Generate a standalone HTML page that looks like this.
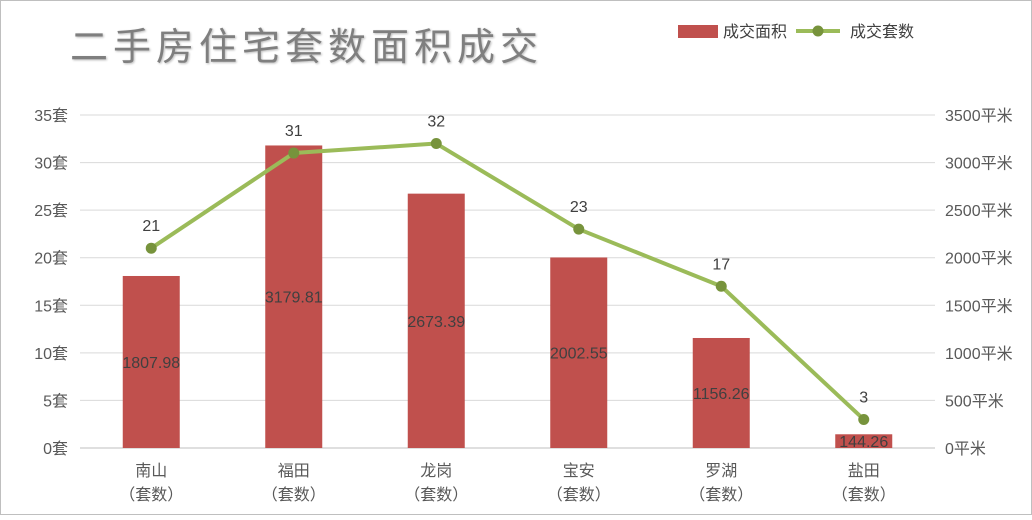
<!DOCTYPE html>
<html><head><meta charset="utf-8">
<style>
html,body{margin:0;padding:0;background:#fff}
body{width:1032px;height:515px;overflow:hidden;font-family:"Liberation Sans","Noto Sans CJK SC",sans-serif}
</style></head>
<body>
<svg id="chart" width="1032" height="515" xmlns="http://www.w3.org/2000/svg" font-family="Liberation Sans, Noto Sans CJK SC, sans-serif">
<rect x="0.5" y="0.5" width="1031" height="514" fill="#fff" stroke="#bfbfbf"/>
<text x="70" y="60" font-size="38" fill="#7f7f7f" letter-spacing="5" font-family="Liberation Sans, Noto Sans CJK SC, sans-serif" style="text-shadow:1px 1px 2px #bbb">二手房住宅套数面积成交</text>
<g>
<rect x="678" y="25" width="40" height="13" fill="#c0504d"/>
<text x="723" y="37" font-size="16" fill="#404040">成交面积</text>
<line x1="796" y1="31" x2="840" y2="31" stroke="#9bbb59" stroke-width="4"/>
<circle cx="818" cy="31" r="5.5" fill="#77933c"/>
<text x="850" y="37" font-size="16" fill="#404040">成交套数</text>
</g>
<g id="grid"></g><g id="bars"></g><g id="line"></g><g id="labels"></g>
</svg>
<script>
const categories=["南山","福田","龙岗","宝安","罗湖","盐田"];
const areaValues=[1807.98,3179.81,2673.39,2002.55,1156.26,144.26];
const countValues=[21,31,32,23,17,3];
const leftTicks=[0,5,10,15,20,25,30,35];
const rightTicks=[0,500,1000,1500,2000,2500,3000,3500];
const NS="http://www.w3.org/2000/svg";
const x0=80,x1=935,yB=448,yT=115;
const yL=v=>yB-(v/35)*(yB-yT);
const yR=v=>yB-(v/3500)*(yB-yT);
const step=(x1-x0)/categories.length;
const xc=i=>x0+step*(i+0.5);
function mk(tag,attrs,parent,txt){const e=document.createElementNS(NS,tag);for(const k in attrs)e.setAttribute(k,attrs[k]);if(txt!==undefined)e.textContent=txt;document.getElementById(parent).appendChild(e);return e;}
leftTicks.forEach((t,i)=>{
 const g=mk('line',{x1:x0,x2:x1,y1:yL(t),y2:yL(t),stroke:t===0?'#bfbfbf':'#d9d9d9','stroke-width':1},'grid');
 
 
 const l=mk('text',{x:68,y:yL(t)+6,'font-size':16,fill:'#595959','text-anchor':'end'},'grid',t+'套');
 
 
});
rightTicks.forEach(t=>{
 const l=mk('text',{x:945,y:yR(t)+6,'font-size':16,fill:'#595959'},'grid',t+'平米');
 
 
});
categories.forEach((c,i)=>{
 const a=mk('text',{x:xc(i),y:476,'font-size':16,fill:'#595959','text-anchor':'middle'},'labels',c);
 
 
 const b=mk('text',{x:xc(i),y:500,'font-size':16,fill:'#595959','text-anchor':'middle'},'labels','（套数）');
 
 
});
areaValues.forEach((v,i)=>{
 const w=57,top=yR(v);
 const r=mk('rect',{x:xc(i)-w/2,y:top,width:w,height:yB-top,fill:'#c0504d'},'bars');
 
 
 const t=mk('text',{x:xc(i),y:(top+yB)/2+6,'font-size':16,fill:'#404040','text-anchor':'middle'},'labels',v.toFixed(2));
 
 
});
const pts=countValues.map((v,i)=>xc(i)+','+yL(v)).join(' ');
const pl=mk('polyline',{points:pts,fill:'none',stroke:'#9bbb59','stroke-width':4,'stroke-linejoin':'round'},'line');


countValues.forEach((v,i)=>{
 const c=mk('circle',{cx:xc(i),cy:yL(v),r:5.5,fill:'#77933c'},'line');
 
 
 const t=mk('text',{x:xc(i),y:yL(v)-17,'font-size':16,fill:'#404040','text-anchor':'middle'},'labels',v);
 
 
});
</script>
</body></html>
